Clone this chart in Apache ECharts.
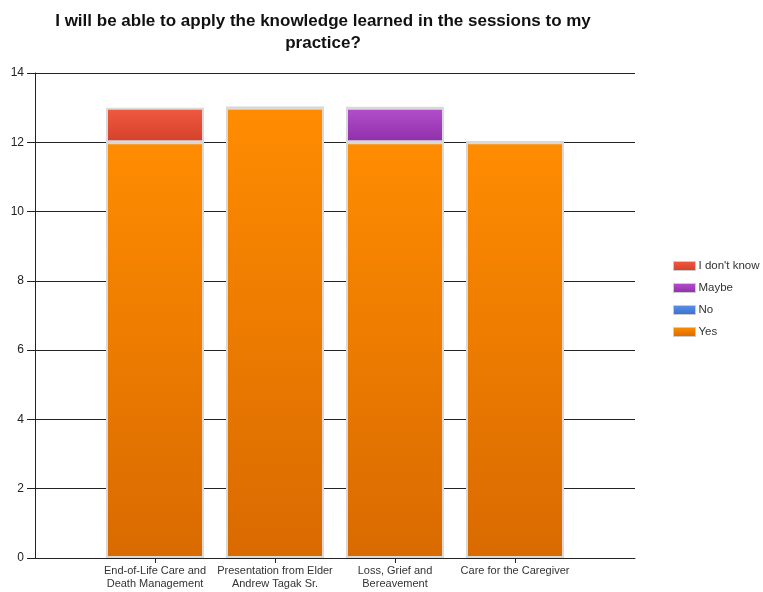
<!DOCTYPE html>
<html>
<head>
<meta charset="utf-8">
<script src="https://cdn.jsdelivr.net/npm/echarts@6/dist/echarts.min.js"></script>
<style>
  html, body { margin: 0; padding: 0; background: #fff; }
  #chart { width: 763px; height: 592px; }
</style>
</head>
<body>
<div id="chart"></div>
<script>
// categories (padded with empty slots at both ends, like the original axis)
var categories = ['', 'End-of-Life Care and\nDeath Management', 'Presentation from Elder\nAndrew Tagak Sr.', 'Loss, Grief and\nBereavement', 'Care for the Caregiver', ''];
var yesValues = [null, 12, 13, 12, 12, null];
var noValues = [null, 0, 0, 0, 0, null];
var maybeValues = [null, 0, 0, 1, 0, null];
var dontKnowValues = [null, 1, 0, 0, 0, null];
var legendNames = ["I don't know", 'Maybe', 'No', 'Yes'];

function grad(top, bottom) {
    return new echarts.graphic.LinearGradient(0, 0, 0, 1, [
        { offset: 0, color: top },
        { offset: 1, color: bottom }
    ]);
}

var chart = echarts.init(document.getElementById('chart'));

function bar(name, data, color) {
    return {
        name: name,
        type: 'bar',
        stack: 'total',
        barWidth: 98,
        data: data,
        itemStyle: {
            color: color,
            borderColor: '#d9d9d9',
            borderWidth: 2
        }
    };
}

var option = {
    backgroundColor: '#fff',
    animation: false,
    title: {
        text: 'I will be able to apply the knowledge learned in the sessions to my\npractice?',
        left: 318,
        top: 5,
        textAlign: 'center',
        textStyle: {
            fontFamily: 'Liberation Sans',
            fontSize: 17,
            fontWeight: 'bold',
            color: '#111',
            lineHeight: 22
        }
    },
    legend: {
        data: legendNames,
        orient: 'vertical',
        left: 668,
        top: 255,
        itemWidth: 22,
        itemHeight: 9,
        itemGap: 10,
        icon: 'rect',
        itemStyle: { borderColor: '#ccc', borderWidth: 1 },
        textStyle: { fontFamily: 'Liberation Sans', fontSize: 11.5, color: '#333', padding: [0, 0, 0, -2] }
    },
    grid: { left: 35, right: 128, top: 73, bottom: 34 },
    xAxis: {
        type: 'category',
        data: categories,
        boundaryGap: false,
        axisLine: { lineStyle: { color: '#222', width: 1 } },
        axisTick: {
            length: 5,
            lineStyle: { color: '#222' },
            interval: function (i, v) { return v !== ''; }
        },
        axisLabel: {
            interval: 0,
            fontFamily: 'Liberation Sans',
            fontSize: 11,
            color: '#333',
            lineHeight: 13,
            margin: 6
        }
    },
    yAxis: {
        type: 'value',
        min: 0,
        max: 14,
        interval: 2,
        axisLine: { show: true, lineStyle: { color: '#222', width: 1 } },
        axisTick: { show: true, length: 8, lineStyle: { color: '#222' } },
        axisLabel: { fontFamily: 'Liberation Sans', fontSize: 12, color: '#222', margin: 11 },
        splitLine: { lineStyle: { color: '#222', width: 1 } }
    },
    series: [
        bar('Yes', yesValues, grad('#ff8c00', '#d96a00')),
        bar('No', noValues, grad('#5a90e8', '#3a6ed0')),
        bar('Maybe', maybeValues, grad('#b44fcc', '#8e2faa')),
        bar("I don't know", dontKnowValues, grad('#f05a40', '#d4402a'))
    ]
};

chart.setOption(option);
</script>
</body>
</html>
